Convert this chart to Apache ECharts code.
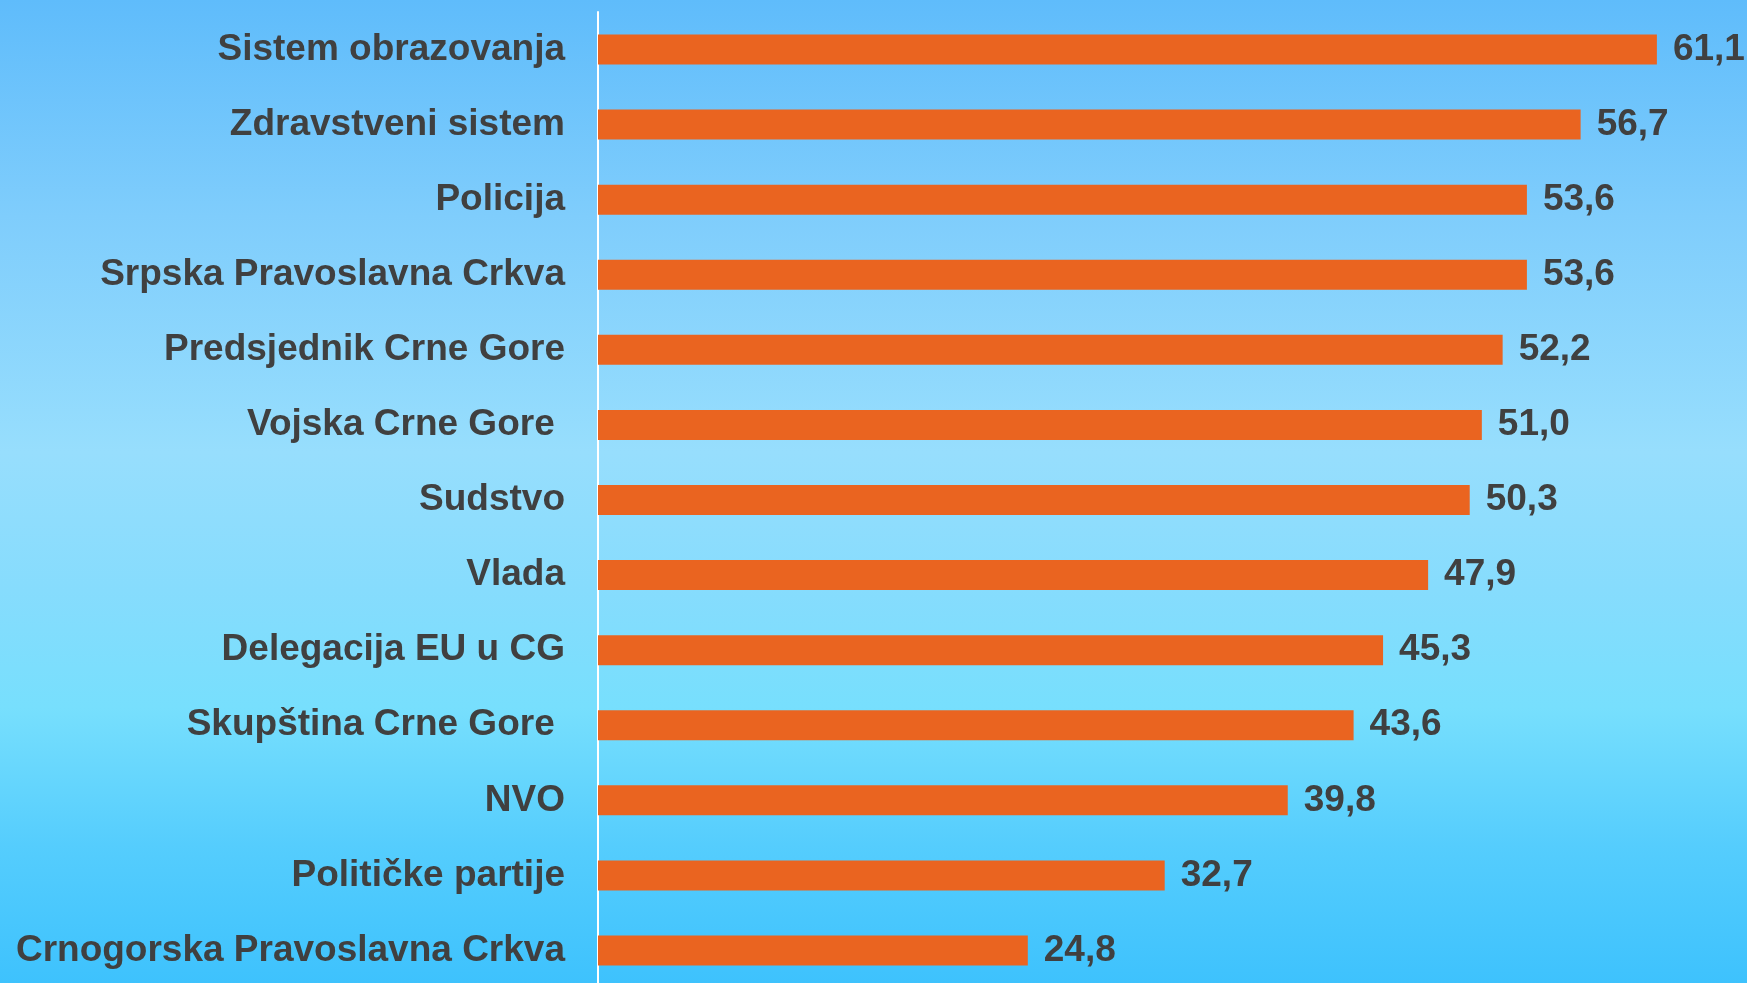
<!DOCTYPE html>
<html>
<head>
<meta charset="utf-8">
<script src="https://cdn.jsdelivr.net/npm/echarts@6/dist/echarts.min.js"></script>
<style>
  html, body { margin: 0; padding: 0; }
  #chart { width: 1747px; height: 983px;
    background: linear-gradient(to bottom, #5fbcfb 0%, #7fcdfc 22%, #97defd 46%, #86dcfd 60%, #77dffd 72%, #55cdfd 86%, #3ec2fd 100%); }
</style>
</head>
<body>
<div id="chart"></div>
<script>
// categories top to bottom (trailing spaces as in the original labels)
const institutions = [
	'Sistem obrazovanja',
	'Zdravstveni sistem',
	'Policija',
	'Srpska Pravoslavna Crkva',
	'Predsjednik Crne Gore',
	'Vojska Crne Gore ',
	'Sudstvo',
	'Vlada',
	'Delegacija EU u CG',
	'Skupština Crne Gore ',
	'NVO',
	'Političke partije',
	'Crnogorska Pravoslavna Crkva'
];
const trustValues = [61.1, 56.7, 53.6, 53.6, 52.2, 51.0, 50.3, 47.9, 45.3, 43.6, 39.8, 32.7, 24.8];

const chart = echarts.init(document.getElementById('chart'));

const option = {
	backgroundColor: 'transparent',
	grid: {
		left: 598,
		right: 0,
		top: 12,
		bottom: -5,
		containLabel: false,
		outerBoundsMode: 'none' // keep the grid exactly where it is set
	},
	xAxis: {
		type: 'value',
		min: 0,
		max: 66.3,
		show: false
	},
	yAxis: {
		type: 'category',
		inverse: true,
		data: institutions,
		axisLine: { show: true, lineStyle: { color: '#ffffff', width: 2 } },
		axisTick: { show: false },
		axisLabel: {
			margin: 33,
			padding: [8, 0, 0, 0],
			color: '#404040',
			fontFamily: 'Liberation Sans',
			fontWeight: 'bold',
			fontSize: 37
		}
	},
	series: [{
		type: 'bar',
		data: trustValues,
		barWidth: 30,
		itemStyle: { color: '#ea6420' },
		label: {
			show: true,
			position: 'right',
			distance: 16,
			padding: [8, 0, 0, 0],
			color: '#404040',
			fontFamily: 'Liberation Sans',
			fontWeight: 'bold',
			fontSize: 37,
			formatter: function (p) {
				return p.value.toFixed(1).replace('.', ',');
			}
		}
	}]
};

chart.setOption(option);
</script>
</body>
</html>
